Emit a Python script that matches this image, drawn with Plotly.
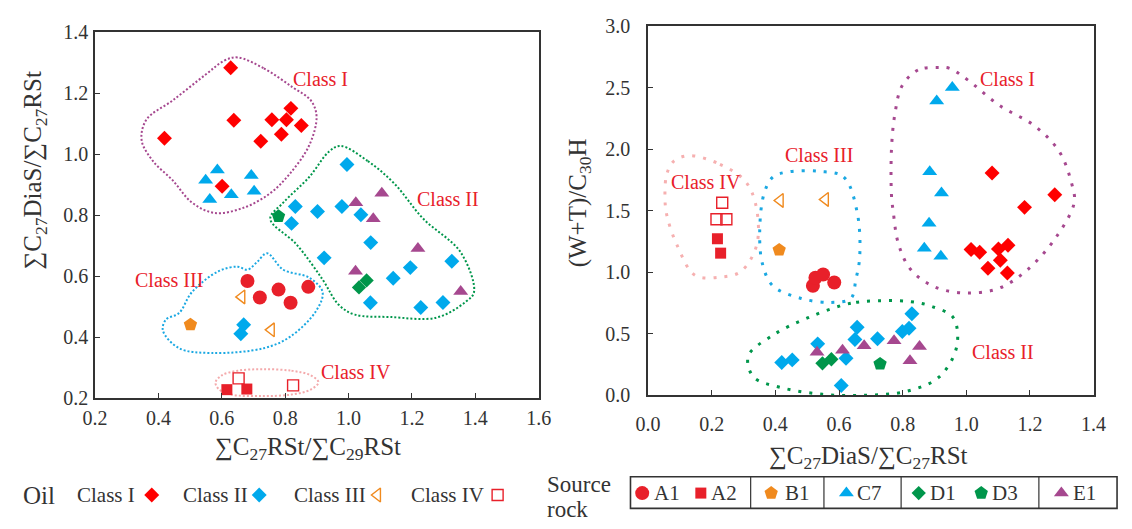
import plotly.graph_objects as go

W, H = 1132, 529
SERIF = "Liberation Serif"

# ---------------- colours ----------------
RED = "#FF0000"
BLUE = "#00A9EC"
ORANGE = "#F08A1E"
RED2 = "#E8202A"
GREEN = "#00964B"
PURPLE = "#A6488F"

# ================= LEFT PANEL DATA (x: ΣC27RSt/ΣC29RSt, y: ΣC27DiaS/ΣC27RSt) =================
L_oilI_x = [0.628, 0.419, 0.638, 0.758, 0.818, 0.804, 0.851, 0.723, 0.788, 0.601]
L_oilI_y = [1.283, 1.052, 1.111, 1.113, 1.150, 1.113, 1.094, 1.042, 1.065, 0.895]
L_oilII_x = [0.995, 0.832, 0.902, 0.979, 1.039, 0.820, 1.070, 0.923, 1.195, 1.141, 1.326, 1.069, 1.228, 1.298, 0.669, 0.660]
L_oilII_y = [0.966, 0.828, 0.812, 0.828, 0.801, 0.773, 0.710, 0.660, 0.628, 0.593, 0.649, 0.513, 0.497, 0.514, 0.441, 0.411]
L_oilIII_x = [0.663, 0.756]
L_oilIII_y = [0.532, 0.424]
L_oilIV_x = [0.653, 0.825]
L_oilIV_y = [0.265, 0.242]
L_A1_x = [0.681, 0.720, 0.779, 0.873, 0.817]
L_A1_y = [0.584, 0.530, 0.556, 0.565, 0.513]
L_A2_x = [0.616, 0.679]
L_A2_y = [0.228, 0.230]
L_B1_x = [0.501]
L_B1_y = [0.441]
L_C7_x = [0.549, 0.586, 0.562, 0.630, 0.693, 0.702]
L_C7_y = [0.914, 0.948, 0.851, 0.867, 0.930, 0.878]
L_D1_x = [1.033, 1.057]
L_D1_y = [0.563, 0.586]
L_D3_x = [0.779]
L_D3_y = [0.796]
L_E1_x = [1.105, 1.023, 1.078, 1.219, 1.022, 1.354]
L_E1_y = [0.872, 0.841, 0.788, 0.691, 0.616, 0.550]

# envelopes (hand-drawn class boundaries), left panel
L_envI_x = [0.650, 0.733, 0.825, 0.881, 0.899, 0.876, 0.814, 0.753, 0.671, 0.578, 0.506, 0.445, 0.383, 0.347, 0.362, 0.445, 0.548, 0.609]
L_envI_y = [1.317, 1.281, 1.218, 1.176, 1.124, 1.029, 0.935, 0.872, 0.825, 0.807, 0.841, 0.914, 0.977, 1.045, 1.113, 1.176, 1.260, 1.307]
L_envII_x = [0.974, 1.061, 1.144, 1.236, 1.354, 1.396, 1.370, 1.277, 1.133, 1.020, 0.969, 0.918, 0.835, 0.753, 0.794, 0.876, 0.938]
L_envII_y = [1.027, 0.977, 0.904, 0.788, 0.678, 0.548, 0.516, 0.464, 0.466, 0.474, 0.506, 0.589, 0.705, 0.788, 0.841, 0.925, 1.008]
L_envIII_x = [0.743, 0.794, 0.876, 0.918, 0.897, 0.815, 0.733, 0.568, 0.465, 0.414, 0.424, 0.465, 0.506, 0.589, 0.650, 0.681, 0.712]
L_envIII_y = [0.675, 0.621, 0.595, 0.548, 0.485, 0.401, 0.364, 0.348, 0.364, 0.422, 0.458, 0.479, 0.548, 0.616, 0.631, 0.621, 0.647]
L_envIV_x = [0.727, 0.820, 0.880, 0.905, 0.880, 0.820, 0.727, 0.630, 0.590, 0.580, 0.600, 0.650]
L_envIV_y = [0.295, 0.290, 0.275, 0.252, 0.228, 0.212, 0.207, 0.212, 0.230, 0.252, 0.275, 0.290]

L_labels = ["Class I", "Class II", "Class III", "Class IV"]
L_label_x = [0.913, 1.315, 0.434, 1.025]
L_label_y = [1.246, 0.853, 0.589, 0.286]

# ================= RIGHT PANEL DATA (x: ΣC27DiaS/ΣC27RSt, y: (W+T)/C30H) =================
R_oilI_x = [1.081, 1.278, 1.183, 1.015, 1.042, 1.101, 1.131, 1.107, 1.068, 1.129]
R_oilI_y = [1.807, 1.630, 1.527, 1.184, 1.163, 1.189, 1.220, 1.098, 1.033, 0.994]
R_oilII_x = [0.657, 0.650, 0.533, 0.721, 0.829, 0.820, 0.799, 0.622, 0.420, 0.453, 0.607]
R_oilII_y = [0.553, 0.454, 0.418, 0.460, 0.662, 0.545, 0.519, 0.301, 0.267, 0.288, 0.080]
R_oilIII_x = [0.415, 0.557]
R_oilIII_y = [1.583, 1.591]
R_oilIV_x = [0.233, 0.215, 0.246]
R_oilIV_y = [1.565, 1.431, 1.431]
R_A1_x = [0.518, 0.526, 0.550, 0.585]
R_A1_y = [0.890, 0.955, 0.981, 0.916]
R_A2_x = [0.218, 0.228]
R_A2_y = [1.272, 1.155]
R_B1_x = [0.412]
R_B1_y = [1.181]
R_C7_x = [0.956, 0.907, 0.885, 0.922, 0.883, 0.868, 0.920]
R_C7_y = [2.500, 2.391, 1.817, 1.643, 1.397, 1.194, 1.129]
R_D1_x = [0.548, 0.576]
R_D1_y = [0.260, 0.293]
R_D3_x = [0.729]
R_D3_y = [0.255]
R_E1_x = [0.531, 0.611, 0.679, 0.773, 0.853, 0.823]
R_E1_y = [0.350, 0.366, 0.403, 0.444, 0.397, 0.280]

R_envI_x = [0.915, 0.848, 0.798, 0.776, 0.765, 0.765, 0.770, 0.787, 0.826, 0.903, 1.003, 1.103, 1.192, 1.281, 1.339, 1.331, 1.292, 1.215, 1.103, 1.003, 0.948]
R_envI_y = [2.664, 2.643, 2.513, 2.292, 2.007, 1.617, 1.501, 1.228, 1.020, 0.878, 0.831, 0.870, 1.020, 1.280, 1.565, 1.721, 1.981, 2.188, 2.357, 2.565, 2.656]
R_envII_x = [0.742, 0.637, 0.503, 0.392, 0.315, 0.331, 0.415, 0.548, 0.681, 0.815, 0.915, 0.970, 0.959, 0.892, 0.826]
R_envII_y = [0.769, 0.748, 0.631, 0.488, 0.319, 0.150, 0.065, 0.008, 0.000, 0.034, 0.150, 0.397, 0.631, 0.722, 0.761]
R_envIII_x = [0.537, 0.615, 0.657, 0.665, 0.653, 0.637, 0.576, 0.481, 0.392, 0.359, 0.351, 0.365, 0.392, 0.440]
R_envIII_y = [1.820, 1.773, 1.487, 1.124, 0.942, 0.787, 0.755, 0.787, 0.890, 1.072, 1.357, 1.643, 1.773, 1.815]
R_envIV_x = [0.131, 0.226, 0.303, 0.337, 0.342, 0.292, 0.226, 0.148, 0.092, 0.059, 0.053, 0.059, 0.081]
R_envIV_y = [1.947, 1.877, 1.747, 1.565, 1.228, 1.007, 0.960, 0.974, 1.215, 1.462, 1.617, 1.799, 1.903]

R_labels = ["Class I", "Class II", "Class III", "Class IV"]
R_label_x = [1.131, 1.115, 0.537, 0.181]
R_label_y = [2.570, 0.350, 1.955, 1.734]

# ================= LEGEND CONTENT =================
oil_legend_labels = ["Class I", "Class II", "Class III", "Class IV"]
source_legend_labels = ["A1", "A2", "B1", "C7", "D1", "D3", "E1"]

fig = go.Figure()


def closed(xs, ys):
    return list(xs) + [xs[0]], list(ys) + [ys[0]]


def envelope(xs, ys, color, xa, ya, width, dash):
    cx, cy = closed(xs, ys)
    fig.add_trace(go.Scatter(x=cx, y=cy, mode="lines", xaxis=xa, yaxis=ya,
                             line=dict(color=color, width=width, dash=dash, shape="spline", smoothing=1.0),
                             hoverinfo="skip", showlegend=False, cliponaxis=False))


def pts(xs, ys, xa, ya, symbol, color, size, open_=False):
    if open_:
        marker = dict(symbol=symbol + "-open", size=size, color=color, line=dict(width=1.4, color=color))
    else:
        marker = dict(symbol=symbol, size=size, color=color, line=dict(width=0))
    fig.add_trace(go.Scatter(x=xs, y=ys, mode="markers", xaxis=xa, yaxis=ya, marker=marker,
                             showlegend=False, cliponaxis=False))


# ---- left envelopes
ldash = "2px,2px"
envelope(L_envI_x, L_envI_y, PURPLE, "x", "y", 2, ldash)
envelope(L_envII_x, L_envII_y, GREEN, "x", "y", 2, ldash)
envelope(L_envIII_x, L_envIII_y, "#1BA8E2", "x", "y", 2, ldash)
envelope(L_envIV_x, L_envIV_y, "#F4AAAC", "x", "y", 2, ldash)

# ---- right envelopes
rdash = "3px,8px"
envelope(R_envI_x, R_envI_y, PURPLE, "x2", "y2", 3, rdash)
envelope(R_envII_x, R_envII_y, GREEN, "x2", "y2", 3, rdash)
envelope(R_envIII_x, R_envIII_y, "#1BA8E2", "x2", "y2", 3, rdash)
envelope(R_envIV_x, R_envIV_y, "#F6B0B0", "x2", "y2", 3, rdash)

# ---- markers
for (xa, ya, d) in [("x", "y", dict(
        oilI=(L_oilI_x, L_oilI_y), oilII=(L_oilII_x, L_oilII_y), oilIII=(L_oilIII_x, L_oilIII_y),
        oilIV=(L_oilIV_x, L_oilIV_y), A1=(L_A1_x, L_A1_y), A2=(L_A2_x, L_A2_y), B1=(L_B1_x, L_B1_y),
        C7=(L_C7_x, L_C7_y), D1=(L_D1_x, L_D1_y), D3=(L_D3_x, L_D3_y), E1=(L_E1_x, L_E1_y))),
                    ("x2", "y2", dict(
        oilI=(R_oilI_x, R_oilI_y), oilII=(R_oilII_x, R_oilII_y), oilIII=(R_oilIII_x, R_oilIII_y),
        oilIV=(R_oilIV_x, R_oilIV_y), A1=(R_A1_x, R_A1_y), A2=(R_A2_x, R_A2_y), B1=(R_B1_x, R_B1_y),
        C7=(R_C7_x, R_C7_y), D1=(R_D1_x, R_D1_y), D3=(R_D3_x, R_D3_y), E1=(R_E1_x, R_E1_y)))]:
    pts(*d["C7"], xa, ya, "triangle-up", BLUE, 13)
    pts(*d["oilII"], xa, ya, "diamond", BLUE, 11.5)
    pts(*d["oilI"], xa, ya, "diamond", RED, 11.5)
    pts(*d["E1"], xa, ya, "triangle-up", PURPLE, 13)
    pts(*d["D1"], xa, ya, "diamond", GREEN, 11)
    pts(*d["D3"], xa, ya, "pentagon", GREEN, 14)
    pts(*d["A1"], xa, ya, "circle", RED2, 14)
    pts(*d["A2"], xa, ya, "square", RED2, 11)
    pts(*d["B1"], xa, ya, "pentagon", ORANGE, 14)
    pts(*d["oilIII"], xa, ya, "triangle-left", ORANGE, 12, open_=True)
    pts(*d["oilIV"], xa, ya, "square", RED2, 11, open_=True)

# ---- legend (helper axis in pixel units)
oil_sym = [("diamond", RED, 11.5, False), ("diamond", BLUE, 11.5, False),
           ("triangle-left", ORANGE, 12, True), ("square", RED2, 11, True)]
oil_text_x = [63, 172, 286, 405]
oil_sym_x = [142, 252, 373, 496]
LEG_Y = 505
for (s, c, sz, op), sx in zip(oil_sym, oil_sym_x):
    pts([sx], [LEG_Y], "x3", "y3", s, c, sz, open_=op)

src_sym = [("circle", RED2, 14), ("square", RED2, 11), ("pentagon", ORANGE, 14),
           ("triangle-up", BLUE, 13), ("diamond", GREEN, 11), ("pentagon", GREEN, 14),
           ("triangle-up", PURPLE, 13)]
src_sym_x = [644, 704, 776, 853, 927, 991, 1073]
src_text_x = [654, 712, 788, 862, 936, 1000, 1083]
SRC_Y = 503
for (s, c, sz), sx in zip(src_sym, src_sym_x):
    pts([sx], [SRC_Y], "x3", "y3", s, c, sz)

annotations = []
for t, x, y in zip(L_labels, L_label_x, L_label_y):
    annotations.append(dict(text=t, x=x, y=y, xref="x", yref="y", showarrow=False,
                            font=dict(family=SERIF, size=20, color=RED2)))
for t, x, y in zip(R_labels, R_label_x, R_label_y):
    annotations.append(dict(text=t, x=x, y=y, xref="x2", yref="y2", showarrow=False,
                            font=dict(family=SERIF, size=20, color=RED2)))

TITLE_FONT = dict(family=SERIF, size=25, color="#333333")
annotations += [
    dict(text="∑C<sub>27</sub>RSt/∑C<sub>29</sub>RSt", x=302, y=456, xref="x3", yref="y3",
         showarrow=False, font=TITLE_FONT),
    dict(text="∑C<sub>27</sub>DiaS/∑C<sub>27</sub>RSt", x=22, y=166, xref="x3", yref="y3",
         showarrow=False, textangle=-90, font=TITLE_FONT),
    dict(text="∑C<sub>27</sub>DiaS/∑C<sub>27</sub>RSt", x=876, y=466, xref="x3", yref="y3",
         showarrow=False, font=TITLE_FONT),
    dict(text="(W+T)/C<sub>30</sub>H", x=580, y=200, xref="x3", yref="y3",
         showarrow=False, textangle=-90, font=TITLE_FONT),
]

LEG_FONT = dict(family=SERIF, size=21, color="#333333")
annotations.append(dict(text="Oil", x=8, y=LEG_Y, xref="x3", yref="y3", xanchor="left",
                        showarrow=False, font=dict(family=SERIF, size=25, color="#333333")))
for t, x in zip(oil_legend_labels, oil_text_x):
    annotations.append(dict(text=t, x=x, y=LEG_Y, xref="x3", yref="y3", xanchor="left",
                            showarrow=False, font=LEG_FONT))
annotations.append(dict(text="Source", x=544, y=494, xref="x3", yref="y3", xanchor="left",
                        showarrow=False, font=dict(family=SERIF, size=23, color="#333333")))
annotations.append(dict(text="rock", x=544, y=520, xref="x3", yref="y3", xanchor="left",
                        showarrow=False, font=dict(family=SERIF, size=23, color="#333333")))
for t, x in zip(source_legend_labels, src_text_x):
    annotations.append(dict(text=t, x=x, y=SRC_Y, xref="x3", yref="y3", xanchor="left",
                            showarrow=False, font=LEG_FONT))

# legend box
BOX = dict(x0=632, x1=1130, y0=486, y1=519)
SEPS = [755, 830, 909, 1050]
shapes = [dict(type="rect", xref="x3", yref="y3", line=dict(color="#333333", width=1.6), **BOX)]
for s in SEPS:
    shapes.append(dict(type="line", xref="x3", yref="y3", x0=s, x1=s, y0=BOX["y0"], y1=BOX["y1"],
                       line=dict(color="#333333", width=1.2)))

TICK_FONT = dict(family=SERIF, size=20, color="#333333")
axis_common = dict(showline=True, mirror=True, linecolor="#333333", linewidth=1.8,
                   ticks="inside", ticklen=5, tickwidth=1.2, tickcolor="#333333",
                   showgrid=False, zeroline=False, tickfont=TICK_FONT, tickformat=".1f",
                   fixedrange=True)

fig.update_layout(
    width=W, height=H, margin=dict(l=0, r=0, t=0, b=0),
    font=dict(family=SERIF, color="#333333"),
    paper_bgcolor="white", plot_bgcolor="rgba(0,0,0,0)",
    xaxis=dict(domain=[84 / W, 538 / W], range=[0.2, 1.6], tick0=0.2, dtick=0.2, anchor="y",
               ticklabelstandoff=1, **axis_common),
    yaxis=dict(domain=[1 - 404 / H, 1 - 22 / H], range=[0.2, 1.4], tick0=0.2, dtick=0.2, anchor="x",
               ticklabelstandoff=1, **axis_common),
    xaxis2=dict(domain=[650 / W, 1106 / W], range=[0, 1.4], tick0=0, dtick=0.2, anchor="y2",
                ticklabelstandoff=10, **axis_common),
    yaxis2=dict(domain=[1 - 401 / H, 1 - 15.7 / H], range=[0, 3.0], tick0=0, dtick=0.5, anchor="x2",
                ticklabelstandoff=12, **axis_common),
    xaxis3=dict(domain=[0, 1], range=[0, W], visible=False, fixedrange=True, anchor="y3"),
    yaxis3=dict(domain=[0, 1], range=[H, 0], visible=False, fixedrange=True, anchor="x3"),
    annotations=annotations,
    shapes=shapes,
    showlegend=False,
)

fig.write_html("out.html")
